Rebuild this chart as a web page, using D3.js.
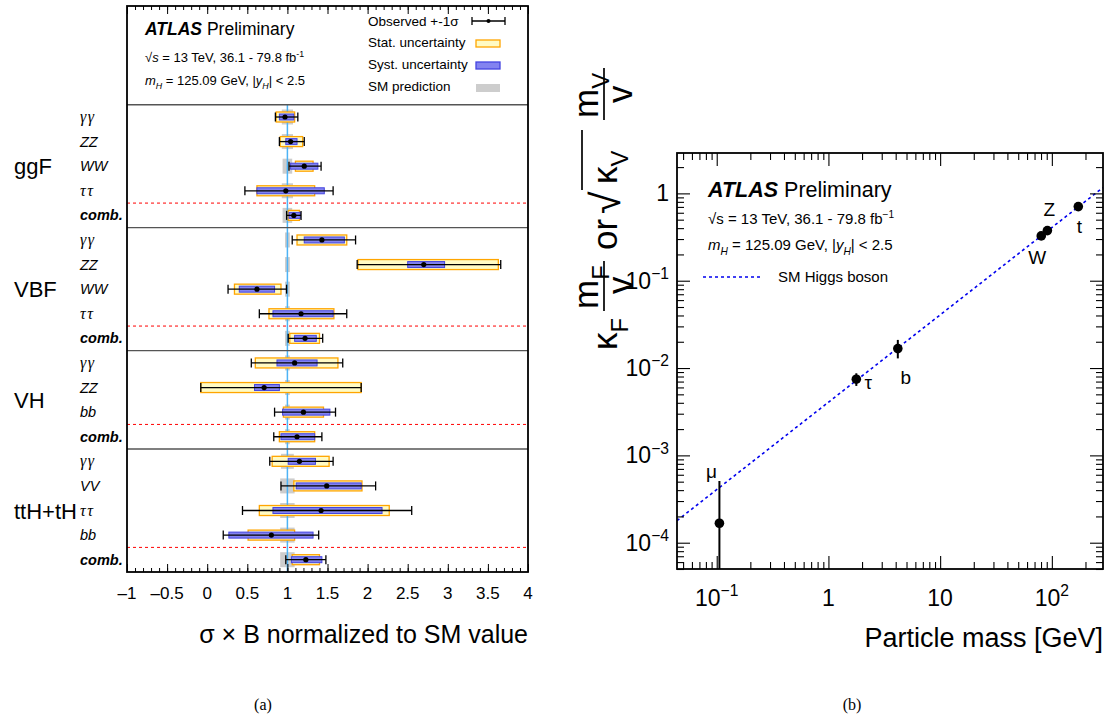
<!DOCTYPE html>
<html>
<head>
<meta charset="utf-8">
<script src="https://cdn.jsdelivr.net/npm/d3@7"></script>
<style>
  body { margin: 0; background: #fff; }
  text { font-family: "Liberation Sans", Arial, sans-serif; fill: #000; }
</style>
</head>
<body>
<svg id="chart" width="1112" height="727"></svg>
<script>
// ---- data: (a) signal strengths per production mode / decay ----
var groups = ["ggF", "VBF", "VH", "ttH+tH"];
var rowGroup = [0, 0, 0, 0, 0, 1, 1, 1, 1, 1, 2, 2, 2, 2, 3, 3, 3, 3, 3];
var rowLabels = ["γγ", "ZZ", "WW", "ττ", "comb.",
                 "γγ", "ZZ", "WW", "ττ", "comb.",
                 "γγ", "ZZ", "bb", "comb.",
                 "γγ", "VV", "ττ", "bb", "comb."];
var muValue = [0.97, 1.04, 1.21, 0.98, 1.08,
               1.43, 2.70, 0.62, 1.17, 1.22,
               1.09, 0.71, 1.20, 1.12,
               1.15, 1.49, 1.42, 0.80, 1.23];
var totLo  = [0.85, 0.90, 1.02, 0.47, 0.99,  1.06, 1.87, 0.26, 0.65, 1.01,  0.55, -0.08, 0.84, 0.83,  0.78, 0.92, 0.44, 0.20, 0.98];
var totHi  = [1.13, 1.21, 1.42, 1.57, 1.17,  1.85, 3.66, 0.99, 1.74, 1.44,  1.69, 1.92, 1.60, 1.43,  1.57, 2.10, 2.55, 1.39, 1.48];
var statLo = [0.86, 0.91, 1.10, 0.62, 1.01,  1.12, 1.88, 0.34, 0.77, 1.03,  0.60, -0.08, 0.95, 0.90,  0.81, 1.08, 0.65, 0.51, 1.06];
var statHi = [1.09, 1.19, 1.32, 1.34, 1.15,  1.74, 3.63, 0.92, 1.58, 1.40,  1.63, 1.92, 1.45, 1.34,  1.52, 1.93, 2.27, 1.09, 1.40];
var systLo = [0.90, 0.98, 1.04, 0.62, 1.02,  1.21, 2.50, 0.40, 0.82, 1.09,  0.87, 0.59, 0.94, 0.92,  1.01, 1.11, 0.82, 0.27, 1.05];
var systHi = [1.08, 1.12, 1.38, 1.46, 1.16,  1.71, 2.96, 0.84, 1.57, 1.36,  1.37, 0.90, 1.53, 1.34,  1.35, 1.92, 2.18, 1.32, 1.43];
var smLo   = [0.93, 0.93, 0.94, 0.93, 0.94,  0.97, 0.97, 0.97, 0.97, 0.97,  0.97, 0.97, 0.97, 0.97,  0.92, 0.91, 0.91, 0.91, 0.91];
var smHi   = [1.07, 1.07, 1.06, 1.07, 1.06,  1.03, 1.03, 1.03, 1.03, 1.03,  1.03, 1.03, 1.03, 1.03,  1.08, 1.09, 1.09, 1.09, 1.09];
var muTicks = [-1, -0.5, 0, 0.5, 1, 1.5, 2, 2.5, 3, 3.5, 4];

// ---- data: (b) reduced couplings vs particle mass ----
var particles = ["μ", "τ", "b", "W", "Z", "t"];
var partMass  = [0.1057, 1.777, 4.18, 80.38, 91.19, 172.5];
var coupling  = [1.67e-4, 7.45e-3, 1.67e-2, 0.326, 0.375, 0.706];
var coupLo    = [5.0e-5, 6.24e-3, 1.29e-2, 0.314, 0.362, 0.662];
var coupHi    = [5.09e-4, 8.71e-3, 2.10e-2, 0.338, 0.388, 0.752];
var smLineMass = [0.0441, 287];
var smLineCoup = [1.79e-4, 1.166];
var massTicks = [0.1, 1, 10, 100];
var massTickLabels = [["10", "−1"], ["1", ""], ["10", ""], ["10", "2"]];
var coupTicks = [1e-4, 1e-3, 1e-2, 1e-1, 1];
var coupTickLabels = [["10", "−4"], ["10", "−3"], ["10", "−2"], ["10", "−1"], ["1", ""]];

var svg = d3.select("#chart");

// rich text helper: parts = [[text, {it, bold, sub, sup, serif}]]
function rich(sel, x, y, size, parts, anchor) {
  var t = sel.append("text").attr("x", x).attr("y", y)
    .style("font-size", size + "px").attr("text-anchor", anchor || "start");
  var shift = 0;
  parts.forEach(function(p) {
    var o = p[1] || {};
    var s = t.append("tspan").text(p[0]);
    var target = o.sub ? size * 0.32 : (o.sup ? -size * 0.42 : 0);
    if (target - shift !== 0) s.attr("dy", target - shift);
    shift = target;
    if (o.sub || o.sup) s.style("font-size", (size * 0.68) + "px");
    if (o.it) s.style("font-style", "italic");
    if (o.bold) s.style("font-weight", "bold");
    if (o.serif) s.style("font-family", "'Liberation Serif', serif");
  });
  return t;
}

// =========================== panel (a) ===========================
var A = { left: 127, right: 528, top: 6, head: 104.7, bottom: 572 };
var xMu = d3.scaleLinear().domain([-1, 4]).range([A.left, A.right]);
var yRow = d3.scaleBand().domain(d3.range(rowLabels.length)).range([A.head, A.bottom]);
var bw = yRow.bandwidth();
var pa = svg.append("g");

var rows = d3.range(rowLabels.length);

// SM prediction boxes
pa.selectAll("rect.sm").data(rows).enter().append("rect")
  .attr("x", function(i) { return xMu(smLo[i]); })
  .attr("width", function(i) { return xMu(smHi[i]) - xMu(smLo[i]); })
  .attr("y", function(i) { return yRow(i) + bw / 2 - 7.5; })
  .attr("height", 15)
  .attr("fill", "#cdcdcd");

// SM line
pa.append("line")
  .attr("x1", xMu(1)).attr("x2", xMu(1))
  .attr("y1", A.head).attr("y2", A.bottom)
  .attr("stroke", "#4db3f5").attr("stroke-width", 1.5);

// group separators and dashed lines above the combinations
rows.forEach(function(i) {
  if (i > 0 && rowGroup[i] !== rowGroup[i - 1]) {
    pa.append("line").attr("x1", A.left).attr("x2", A.right)
      .attr("y1", yRow(i)).attr("y2", yRow(i))
      .attr("stroke", "#555").attr("stroke-width", 1.4);
  }
  if (rowLabels[i] === "comb.") {
    pa.append("line").attr("x1", A.left).attr("x2", A.right)
      .attr("y1", yRow(i)).attr("y2", yRow(i))
      .attr("stroke", "#ff0000").attr("stroke-width", 1)
      .attr("stroke-dasharray", "3,3");
  }
});
pa.append("line").attr("x1", A.left).attr("x2", A.right)
  .attr("y1", A.head).attr("y2", A.head)
  .attr("stroke", "#555").attr("stroke-width", 1.4);

// stat boxes
pa.selectAll("rect.stat").data(rows).enter().append("rect")
  .attr("x", function(i) { return xMu(statLo[i]); })
  .attr("width", function(i) { return xMu(statHi[i]) - xMu(statLo[i]); })
  .attr("y", function(i) { return yRow(i) + bw / 2 - 5; })
  .attr("height", 10)
  .attr("fill", "#fffbc4").attr("stroke", "#ffa500").attr("stroke-width", 1.3);

// syst boxes
pa.selectAll("rect.syst").data(rows).enter().append("rect")
  .attr("x", function(i) { return xMu(systLo[i]); })
  .attr("width", function(i) { return xMu(systHi[i]) - xMu(systLo[i]); })
  .attr("y", function(i) { return yRow(i) + bw / 2 - 3; })
  .attr("height", 6)
  .attr("fill", "#8383f0").attr("stroke", "#4444e0").attr("stroke-width", 1);

// total error bars
var eb = pa.selectAll("g.eb").data(rows).enter().append("g");
eb.append("line")
  .attr("x1", function(i) { return xMu(totLo[i]); })
  .attr("x2", function(i) { return xMu(totHi[i]); })
  .attr("y1", function(i) { return yRow(i) + bw / 2; })
  .attr("y2", function(i) { return yRow(i) + bw / 2; })
  .attr("stroke", "#000").attr("stroke-width", 1.3);
[totLo, totHi].forEach(function(arr) {
  eb.append("line")
    .attr("x1", function(i) { return xMu(arr[i]); })
    .attr("x2", function(i) { return xMu(arr[i]); })
    .attr("y1", function(i) { return yRow(i) + bw / 2 - 4.5; })
    .attr("y2", function(i) { return yRow(i) + bw / 2 + 4.5; })
    .attr("stroke", "#000").attr("stroke-width", 1.3);
});
eb.append("circle")
  .attr("cx", function(i) { return xMu(muValue[i]); })
  .attr("cy", function(i) { return yRow(i) + bw / 2; })
  .attr("r", 2.6).attr("fill", "#000");

// row labels
rows.forEach(function(i) {
  var lab = rowLabels[i];
  var y = yRow(i) + bw / 2 + 5;
  var greek = lab === "γγ" || lab === "ττ";
  var t = pa.append("text").attr("x", 80).attr("y", y).text(lab)
    .style("font-size", greek ? "16px" : "14.5px")
    .style("font-style", "italic");
  if (greek) t.style("font-family", "'Liberation Serif', serif").style("letter-spacing", "1.5px");
  if (lab === "comb.") t.style("font-weight", "bold");
});

// group labels (centred on their block)
groups.forEach(function(g, k) {
  var idx = rows.filter(function(i) { return rowGroup[i] === k; });
  var yc = (yRow(idx[0]) + yRow(idx[idx.length - 1]) + bw) / 2;
  pa.append("text").text(g).attr("x", 14).attr("y", yc + 8).style("font-size", "22px");
});

// frame
pa.append("rect").attr("x", A.left).attr("y", A.top)
  .attr("width", A.right - A.left).attr("height", A.bottom - A.top)
  .attr("fill", "none").attr("stroke", "#000").attr("stroke-width", 1.8);

// x axis ticks (inside, bottom and top)
var minorMu = d3.range(-10, 41).map(function(d) { return d / 10; });
var axB = pa.append("g").attr("transform", "translate(0," + A.bottom + ")");
axB.call(d3.axisBottom(xMu).tickValues(minorMu).tickSize(-4).tickFormat(""));
axB.append("g").call(d3.axisBottom(xMu).tickValues(muTicks).tickSize(-8).tickFormat(""));
var axT = pa.append("g").attr("transform", "translate(0," + A.top + ")");
axT.call(d3.axisTop(xMu).tickValues(minorMu).tickSize(-4).tickFormat(""));
axT.append("g").call(d3.axisTop(xMu).tickValues(muTicks).tickSize(-8).tickFormat(""));
pa.selectAll(".domain").remove();
pa.selectAll(".tick line").attr("stroke", "#000").attr("stroke-width", 1);

pa.selectAll("text.mutick").data(muTicks).enter().append("text")
  .attr("x", function(d) { return xMu(d); })
  .attr("y", 599)
  .attr("text-anchor", "middle")
  .style("font-size", "17px")
  .text(function(d) { return d < 0 ? "–" + (-d) : String(d); });

rich(pa, A.right, 643, 25, [["σ × B normalized to SM value", {}]], "end");

// header text
rich(pa, 145, 35, 17.5, [["ATLAS", { it: true, bold: true }], [" Preliminary", {}]]);
rich(pa, 145, 62, 13, [["√", {}], ["s", { it: true }], [" = 13 TeV, 36.1 - 79.8 fb", {}], ["-1", { sup: true }]]);
rich(pa, 145, 85, 13, [["m", { it: true }], ["H", { sub: true, it: true }], [" = 125.09 GeV, |", {}],
  ["y", { it: true }], ["H", { sub: true, it: true }], ["| < 2.5", {}]]);

// legend
var lg = pa.append("g");
rich(lg, 368, 26, 13.5, [["Observed +-1σ", {}]]);
rich(lg, 368, 47, 13.5, [["Stat. uncertainty", {}]]);
rich(lg, 368, 69, 13.5, [["Syst. uncertainty", {}]]);
rich(lg, 368, 91, 13.5, [["SM prediction", {}]]);
lg.append("line").attr("x1", 472).attr("x2", 505).attr("y1", 21).attr("y2", 21).attr("stroke", "#000").attr("stroke-width", 1.3);
lg.append("line").attr("x1", 472).attr("x2", 472).attr("y1", 17).attr("y2", 25).attr("stroke", "#000").attr("stroke-width", 1.3);
lg.append("line").attr("x1", 505).attr("x2", 505).attr("y1", 17).attr("y2", 25).attr("stroke", "#000").attr("stroke-width", 1.3);
lg.append("circle").attr("cx", 488.5).attr("cy", 21).attr("r", 2).attr("fill", "#000");
lg.append("rect").attr("x", 476).attr("y", 40).attr("width", 24).attr("height", 7)
  .attr("fill", "#fffbc4").attr("stroke", "#ffa500").attr("stroke-width", 1.3);
lg.append("rect").attr("x", 476).attr("y", 62).attr("width", 24).attr("height", 7)
  .attr("fill", "#8383f0").attr("stroke", "#4444e0").attr("stroke-width", 1.3);
lg.append("rect").attr("x", 476).attr("y", 84).attr("width", 24).attr("height", 8)
  .attr("fill", "#cdcdcd");

// =========================== panel (b) ===========================
var B = { left: 677, right: 1103, top: 153, bottom: 569 };
var xM = d3.scaleLog().domain([0.0441, 287]).range([B.left, B.right]);
var yK = d3.scaleLog().domain([5.0e-5, 2.9]).range([B.bottom, B.top]);
var pb = svg.append("g");

// SM line
pb.append("path")
  .datum(d3.range(smLineMass.length))
  .attr("d", d3.line()
    .x(function(i) { return xM(smLineMass[i]); })
    .y(function(i) { return yK(smLineCoup[i]); }))
  .attr("fill", "none").attr("stroke", "#0000ee").attr("stroke-width", 1.6)
  .attr("stroke-dasharray", "3,3");

// data points
var pts = d3.range(particles.length);
pb.selectAll("line.err").data(pts).enter().append("line")
  .attr("x1", function(i) { return xM(partMass[i]); })
  .attr("x2", function(i) { return xM(partMass[i]); })
  .attr("y1", function(i) { return yK(coupLo[i]); })
  .attr("y2", function(i) { return yK(coupHi[i]); })
  .attr("stroke", "#000").attr("stroke-width", 2);
pb.selectAll("circle.pt").data(pts).enter().append("circle")
  .attr("cx", function(i) { return xM(partMass[i]); })
  .attr("cy", function(i) { return yK(coupling[i]); })
  .attr("r", 4.8).attr("fill", "#000");

// particle labels, offsets from the point
var labOff = { "μ": [-8, -45], "τ": [12, 10], "b": [8, 35], "W": [-4, 28], "Z": [2, -15], "t": [1, 26] };
pts.forEach(function(i) {
  var o = labOff[particles[i]];
  pb.append("text").text(particles[i])
    .attr("x", xM(partMass[i]) + o[0])
    .attr("y", yK(coupling[i]) + o[1])
    .attr("text-anchor", "middle")
    .style("font-size", "19px");
});

// frame
pb.append("rect").attr("x", B.left).attr("y", B.top)
  .attr("width", B.right - B.left).attr("height", B.bottom - B.top)
  .attr("fill", "none").attr("stroke", "#000").attr("stroke-width", 1.8);

// log ticks
function minorLog(scale) {
  var dom = scale.domain(), out = [];
  for (var e = Math.floor(Math.log10(dom[0])); e <= Math.ceil(Math.log10(dom[1])); e++) {
    for (var k = 2; k <= 9; k++) {
      var v = k * Math.pow(10, e);
      if (v >= dom[0] && v <= dom[1]) out.push(v);
    }
  }
  return out;
}
var gx = pb.append("g").attr("transform", "translate(0," + B.bottom + ")");
gx.call(d3.axisBottom(xM).tickValues(minorLog(xM)).tickSize(-7).tickFormat(""));
gx.append("g").call(d3.axisBottom(xM).tickValues(massTicks).tickSize(-13).tickFormat(""));
var gxt = pb.append("g").attr("transform", "translate(0," + B.top + ")");
gxt.call(d3.axisTop(xM).tickValues(minorLog(xM)).tickSize(-7).tickFormat(""));
gxt.append("g").call(d3.axisTop(xM).tickValues(massTicks).tickSize(-13).tickFormat(""));
var gy = pb.append("g").attr("transform", "translate(" + B.left + ",0)");
gy.call(d3.axisLeft(yK).tickValues(minorLog(yK)).tickSize(-7).tickFormat(""));
gy.append("g").call(d3.axisLeft(yK).tickValues(coupTicks).tickSize(-13).tickFormat(""));
var gyr = pb.append("g").attr("transform", "translate(" + B.right + ",0)");
gyr.call(d3.axisRight(yK).tickValues(minorLog(yK)).tickSize(-7).tickFormat(""));
gyr.append("g").call(d3.axisRight(yK).tickValues(coupTicks).tickSize(-13).tickFormat(""));
pb.selectAll(".domain").remove();
pb.selectAll(".tick line").attr("stroke", "#000").attr("stroke-width", 1.1);

// tick labels
massTicks.forEach(function(d, i) {
  var l = massTickLabels[i];
  var parts = [[l[0], {}]];
  if (l[1]) parts.push([l[1], { sup: true }]);
  rich(pb, xM(d), 606, 23, parts, "middle");
});
coupTicks.forEach(function(d, i) {
  var l = coupTickLabels[i];
  var parts = [[l[0], {}]];
  if (l[1]) parts.push([l[1], { sup: true }]);
  rich(pb, 669, yK(d) + 8, 23, parts, "end");
});

rich(pb, B.right, 647, 27, [["Particle mass [GeV]", {}]], "end");

// header
rich(pb, 708, 197, 21.5, [["ATLAS", { it: true, bold: true }], [" Preliminary", {}]]);
rich(pb, 708, 224, 15, [["√s = 13 TeV, 36.1 - 79.8 fb", {}], ["−1", { sup: true }]]);
rich(pb, 708, 250, 15, [["m", { it: true }], ["H", { sub: true, it: true }], [" = 125.09 GeV, |", {}],
  ["y", { it: true }], ["H", { sub: true, it: true }], ["| < 2.5", {}]]);
pb.append("line").attr("x1", 703).attr("x2", 763).attr("y1", 277).attr("y2", 277)
  .attr("stroke", "#0000ee").attr("stroke-width", 1.6).attr("stroke-dasharray", "3,3");
rich(pb, 778, 282, 15, [["SM Higgs boson", {}]]);

// y title (rotated): kF mF/v  or  sqrt(kV) mV/v
var yt = pb.append("g").attr("transform", "translate(604,350) rotate(-90)");
var fs = 35;
rich(yt, 0, 13, fs, [["κ", {}], ["F", { sub: true }]]);
rich(yt, 41, -6, fs, [["m", {}], ["F", { sub: true }]]);
yt.append("line").attr("x1", 39).attr("x2", 89).attr("y1", 0).attr("y2", 0).attr("stroke", "#000").attr("stroke-width", 1.7);
rich(yt, 56, 28, fs, [["v", {}]]);
rich(yt, 100, 13, fs, [["or", {}]]);
rich(yt, 136, 16, fs + 6, [["√", {}]]);
yt.append("line").attr("x1", 160).attr("x2", 220).attr("y1", -22).attr("y2", -22).attr("stroke", "#000").attr("stroke-width", 1.7);
rich(yt, 166, 13, fs, [["κ", {}], ["V", { sub: true }]]);
rich(yt, 232, -6, fs, [["m", {}], ["V", { sub: true }]]);
yt.append("line").attr("x1", 230).attr("x2", 282).attr("y1", 0).attr("y2", 0).attr("stroke", "#000").attr("stroke-width", 1.7);
rich(yt, 247, 28, fs, [["v", {}]]);

// captions
svg.append("text").attr("x", 263).attr("y", 710).attr("text-anchor", "middle")
  .style("font-family", "'Liberation Serif', serif").style("font-size", "16px").text("(a)");
svg.append("text").attr("x", 852).attr("y", 710).attr("text-anchor", "middle")
  .style("font-family", "'Liberation Serif', serif").style("font-size", "16px").text("(b)");
</script>
</body>
</html>
